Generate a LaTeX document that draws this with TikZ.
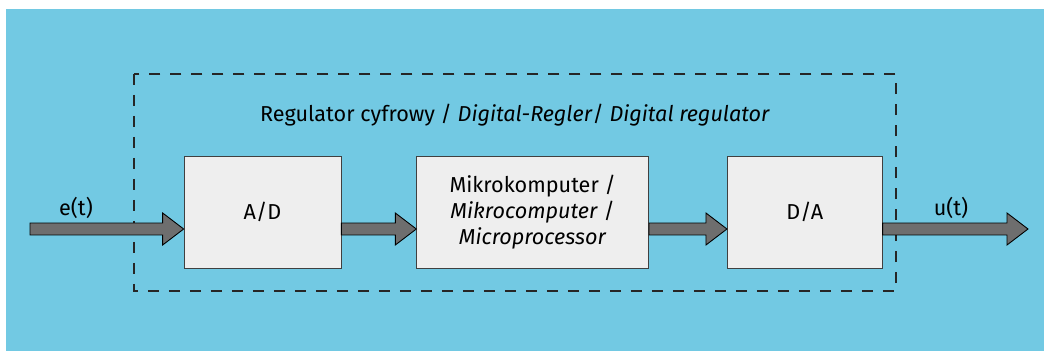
\documentclass[tikz,border=0pt]{standalone}
\usepackage{fontspec}
\setmainfont{Fira Sans}
\usetikzlibrary{positioning, calc}
\definecolor{skyblue}{HTML}{72C9E3}
\definecolor{boxgray}{HTML}{EEEEEE}
\definecolor{arrowgray}{HTML}{6E6E6E}
\tikzset{
    block/.style={rectangle, draw=black!75, fill=boxgray, minimum height=2.24cm, align=center, font=\fontsize{12.3}{15}\selectfont, inner sep=2pt},
    blockarr/.style={draw=black, fill=arrowgray, line width=0.5pt, line join=miter},
    regler/.style={draw=black!85, line width=0.6pt, dash pattern=on 0.22cm off 0.2cm},
    lbl/.style={font=\fontsize{12.3}{14}\selectfont, inner sep=1pt}
}
\newcommand{\blockarrow}[2]{%
    \draw[blockarr] let \p1=(#1), \p2=(#2) in
        (\x1,\y1+0.12cm) -- (\x2-0.42cm,\y1+0.12cm) -- (\x2-0.42cm,\y1+0.32cm) -- (\x2,\y1)
        -- (\x2-0.42cm,\y1-0.32cm) -- (\x2-0.42cm,\y1-0.12cm) -- (\x1,\y1-0.12cm) -- cycle;}
\begin{document}
\begin{tikzpicture}[x=0.02cm, y=-0.02cm, node distance=1.5cm]
        % background
        \fill[white] (0,0) rectangle (1044,351);
        \fill[skyblue] (6,9) rectangle (1044,351);
        \useasboundingbox (0,0) rectangle (1044,351);

        % regulator frame
        \draw[regler] (134,74) rectangle (896,291);
        \node[lbl] (title) at (515,115) {Regulator cyfrowy / \textit{Digital-Regler}/ \textit{Digital regulator}};

        % blocks
        \node[block, minimum width=3.14cm] (ad) at (262.5,212) {A/D};
        \node[block, minimum width=4.64cm, right=1.5cm of ad] (mc) {Mikrokomputer /\\\textit{Mikrocomputer} /\\\textit{Microprocessor}};
        \node[block, minimum width=3.1cm, right=1.56cm of mc] (da) {D/A};

        \coordinate (in) at (30,229);
        \coordinate (out) at (1028,229);

        % signal arrows
        \blockarrow{in}{in -| ad.west}
        \blockarrow{in -| ad.east}{in -| mc.west}
        \blockarrow{in -| mc.east}{in -| da.west}
        \blockarrow{in -| da.east}{out}

        \node[lbl] (e) at (76,208) {e(t)};
        \node[lbl] (u) at (951,208) {u(t)};
    \end{tikzpicture}
\end{document}
